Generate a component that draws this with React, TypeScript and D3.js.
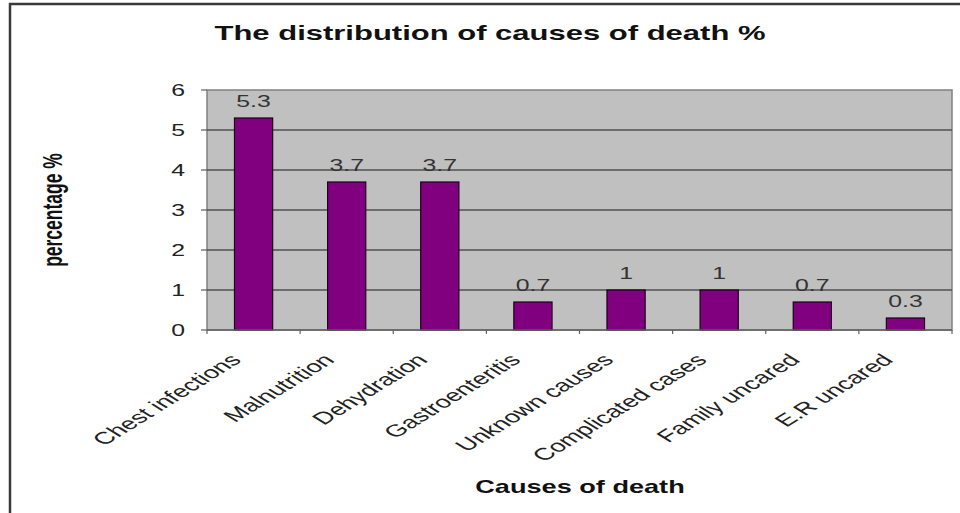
import React from 'react';
import * as d3 from 'd3';

const categories = [
  'Chest infections',
  'Malnutrition',
  'Dehydration',
  'Gastroenteritis',
  'Unknown causes',
  'Complicated cases',
  'Family uncared',
  'E.R uncared',
];
const values = [5.3, 3.7, 3.7, 0.7, 1, 1, 0.7, 0.3];
const yTicks = [0, 1, 2, 3, 4, 5, 6];

const W = 960;
const H = 513;
// the original picture is stretched sideways, so text is widened to match
const SX = 1.55;
const SX_LABEL = 1.62;
const FONT = '"Liberation Sans", Arial, sans-serif';

const plot = { left: 207, right: 952, top: 90, bottom: 330 };

const App = () => {
  const x = d3.scaleBand<string>()
    .domain(categories)
    .range([plot.left, plot.right])
    .padding(0);
  const y = d3.scaleLinear().domain([0, 6]).range([plot.bottom, plot.top]);

  const barW = x.bandwidth() * 0.41;
  const edges = d3.range(categories.length + 1).map(i => plot.left + i * x.step());

  return (
    <div style={{ position: 'absolute', left: 0, top: 0 }}>
      <svg width={W} height={H} style={{ display: 'block', fontFamily: FONT }}>
        <rect x={0} y={0} width={W} height={H} fill="#fff" />
        {/* outer frame */}
        <rect x={10} y={4} width={W + 20} height={H + 20} fill="none" stroke="#3a3a3a" strokeWidth={2.5} />

        {/* title */}
        <text transform={`translate(490,40) scale(${SX},1)`} textAnchor="middle"
          fontSize={20} fontWeight="bold" fill="#111">
          The distribution of causes of death %
        </text>

        {/* plot area */}
        <rect x={plot.left} y={plot.top} width={plot.right - plot.left} height={plot.bottom - plot.top}
          fill="#c0c0c0" stroke="#808080" strokeWidth={1.5} />

        {/* grid */}
        {yTicks.filter(t => t > 0 && t < 6).map(t => (
          <line key={t} x1={plot.left} x2={plot.right} y1={y(t)} y2={y(t)} stroke="#505050" strokeWidth={1.5} />
        ))}

        {/* y axis ticks */}
        {yTicks.map(t => (
          <g key={t}>
            <line x1={plot.left - 6} x2={plot.left} y1={y(t)} y2={y(t)} stroke="#606060" strokeWidth={1.2} />
            <text transform={`translate(185,${y(t) + 6}) scale(${SX},1)`} textAnchor="end" fontSize={16} fill="#222">
              {t}
            </text>
          </g>
        ))}

        {/* bars */}
        {categories.map((c, i) => {
          const cx = (x(c) as number) + x.bandwidth() / 2;
          return (
            <g key={c}>
              <rect x={cx - barW / 2} y={y(values[i])} width={barW} height={plot.bottom - y(values[i])}
                fill="#800080" stroke="#1a001a" strokeWidth={1.2} />
              <text transform={`translate(${cx},${y(values[i]) - 11}) scale(${SX},1)`} textAnchor="middle"
                fontSize={16} fill="#333">
                {values[i]}
              </text>
            </g>
          );
        })}

        {/* x axis line and ticks */}
        <line x1={plot.left} x2={plot.right} y1={plot.bottom} y2={plot.bottom} stroke="#606060" strokeWidth={1.5} />
        {edges.map((e, i) => (
          <line key={i} x1={e} x2={e} y1={plot.bottom} y2={plot.bottom + 4} stroke="#606060" strokeWidth={1.2} />
        ))}

        {/* category labels */}
        {categories.map(c => {
          const cx = (x(c) as number) + x.bandwidth() / 2;
          return (
            <text key={c} transform={`translate(${cx - 11},${plot.bottom + 31}) scale(${SX_LABEL},1) rotate(-45)`}
              textAnchor="end" fontSize={17} fill="#222">
              {c}
            </text>
          );
        })}

        {/* axis titles */}
        <text transform={`translate(580,493) scale(${SX},1)`} textAnchor="middle" fontSize={17.5}
          fontWeight="bold" fill="#111">
          Causes of death
        </text>
        <text transform={`translate(62,210) scale(${SX},1) rotate(-90)`} textAnchor="middle" fontSize={17.5}
          fontWeight="bold" fill="#111">
          percentage %
        </text>
      </svg>
    </div>
  );
};

export default App;
